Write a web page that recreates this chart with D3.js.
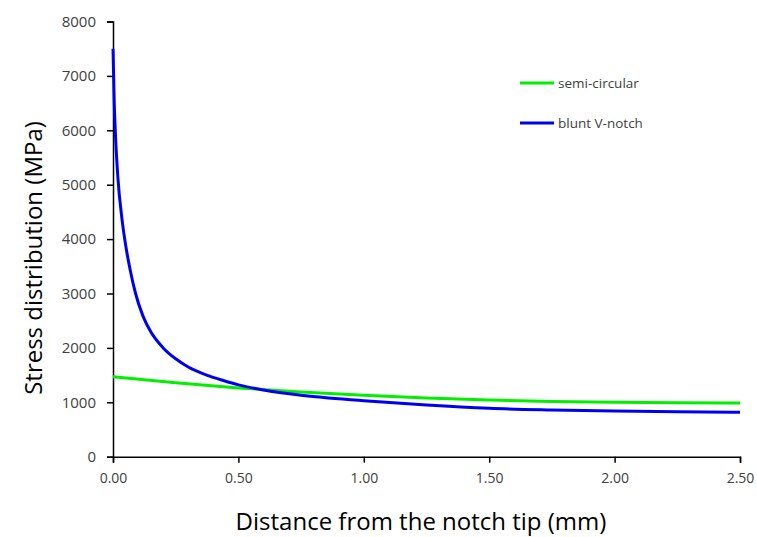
<!DOCTYPE html>
<html>
<head>
<meta charset="utf-8">
<script src="https://cdn.jsdelivr.net/npm/d3@7"></script>
<style>
  body { margin: 0; background: #fff; }
  svg text { font-family: "Open Sans", Lato, sans-serif; fill: #404040; }
  .axis path, .axis line { stroke: #000; stroke-width: 1.5; }
</style>
</head>
<body>
<div id="chart"></div>
<script>
// values
const blueX = [0, 0.005, 0.01, 0.02, 0.035, 0.05, 0.07, 0.09, 0.12, 0.15, 0.2, 0.25, 0.3, 0.38, 0.44, 0.5, 0.6, 0.75, 1.0, 1.25, 1.5, 1.75, 2.0, 2.25, 2.5];
const blueY = [7500, 6500, 5900, 5100, 4400, 3900, 3400, 3000, 2580, 2300, 2000, 1800, 1650, 1490, 1400, 1320, 1226, 1130, 1030, 950, 890, 860, 840, 825, 815];
const greenX = [0, 0.25, 0.5, 0.75, 1.0, 1.25, 1.5, 1.75, 2.0, 2.25, 2.5];
const greenY = [1470, 1360, 1265, 1190, 1130, 1080, 1040, 1015, 1000, 990, 985];
const seriesNames = ['semi-circular', 'blunt V-notch'];
const xTicks = [0, 0.5, 1, 1.5, 2, 2.5];
const yTicks = [0, 1000, 2000, 3000, 4000, 5000, 6000, 7000, 8000];

const w = 757, h = 537;
const svg = d3.select('#chart').append('svg')
    .attr('width', w)
    .attr('height', h);

const xScale = d3.scaleLinear().domain([0, 2.5]).range([113, 740]);
const yScale = d3.scaleLinear().domain([0, 8000]).range([456.7, 21.5]);

svg.append('g')
    .attr('class', 'axis')
    .attr('transform', `translate(0, ${yScale(0)})`)
    .call(d3.axisBottom(xScale).tickValues(xTicks).tickFormat(d3.format('.2f')).tickSizeOuter(0).tickSize(6).tickPadding(10))
    .selectAll('text').style('font-size', '14px');

svg.append('g')
    .attr('class', 'axis')
    .attr('transform', `translate(${xScale(0)}, 0)`)
    .call(d3.axisLeft(yScale).tickValues(yTicks).tickFormat(d3.format('d')).tickSizeOuter(0).tickSize(6).tickPadding(11))
    .selectAll('text').style('font-size', '15px');

const line = d3.line()
    .x(d => xScale(d[0]))
    .y(d => yScale(d[1]))
    .curve(d3.curveMonotoneX);

const series = [
    { name: seriesNames[0], color: '#00f000', pts: d3.zip(greenX, greenY) },
    { name: seriesNames[1], color: '#0000f0', pts: d3.zip(blueX, blueY) }
];

svg.selectAll('path.series')
    .data(series)
    .enter()
    .append('path')
    .attr('class', 'series')
    .attr('d', d => line(d.pts))
    .attr('fill', 'none')
    .attr('stroke', d => d.color)
    .attr('stroke-width', 3);

// legend
const legend = svg.selectAll('g.legend')
    .data(series)
    .enter()
    .append('g')
    .attr('class', 'legend')
    .attr('transform', (d, i) => `translate(520, ${83 + i * 40})`);
legend.append('line')
    .attr('x1', 0).attr('x2', 34)
    .attr('stroke', d => d.color)
    .attr('stroke-width', 3);
legend.append('text')
    .attr('x', 38)
    .attr('dy', '0.35em')
    .style('font-size', '13.5px')
    .text(d => d.name);

svg.append('text')
    .attr('x', 421)
    .attr('y', 530)
    .attr('text-anchor', 'middle')
    .style('font-size', '24px')
    .style('fill', '#000')
    .text('Distance from the notch tip (mm)');

svg.append('text')
    .attr('transform', 'translate(42, 258) rotate(-90)')
    .attr('text-anchor', 'middle')
    .style('font-size', '24px')
    .style('fill', '#000')
    .text('Stress distribution (MPa)');
</script>
</body>
</html>
